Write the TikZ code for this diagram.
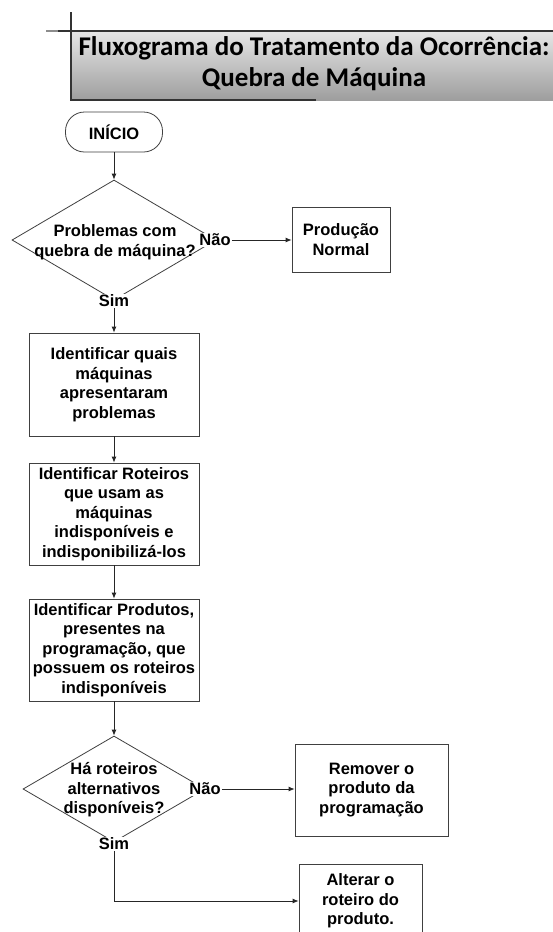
\documentclass[tikz,border=0pt]{standalone}
\usepackage{fontspec}
\setmainfont{Liberation Sans}
\newfontfamily\titlefont{Carlito}
\usetikzlibrary{shapes.geometric,arrows.meta}
\newcommand\flowfont{\bfseries\fontsize{16.5}{19.5}\selectfont}
\newcommand\headfont{\titlefont\bfseries\fontsize{27}{31}\selectfont}
\tikzset{
  edge/.style={draw=black!85, line width=0.8pt},
  arr/.style={edge, -{Latex[length=6pt,width=5pt]}},
  box/.style={draw=black!75, line width=0.8pt, fill=white, align=center, font=\flowfont, inner sep=2pt},
  dia/.style={draw=black!75, line width=0.8pt, shape=diamond, inner sep=0pt},
  lbl/.style={fill=white, inner sep=1pt, font=\flowfont},
  txt/.style={align=center, font=\flowfont, inner sep=0pt},
  headtext/.style={align=center, font=\headfont, inner sep=0pt},
}
\begin{document}
\begin{tikzpicture}[x=1pt,y=-1pt]
\useasboundingbox (0,0) rectangle (553,932);
\clip (0,0) rectangle (553,932);
\fill[white] (0,0) rectangle (553,932);

% header band
\shade[top color=black!10, bottom color=black!38] (71,32) rectangle (560,100);
\draw[black!80, line width=1.5pt] (71,12) -- (71,101);
\draw[black!45, line width=1.6pt] (46,31) -- (58,31);
\draw[black!80, line width=1.8pt] (58,31) -- (560,31);
\draw[black!80, line width=1.5pt] (71,100) -- (316,100);
\node[headtext] (title) at (314,64) {Fluxograma do Tratamento da Ocorrência:\\Quebra de Máquina};

% flow nodes
\node[box, rounded corners=19pt, minimum width=97pt, minimum height=40pt] (start) at (114,132) {INÍCIO};

\node[dia, minimum width=204pt, minimum height=120pt] (d1) at (114,240) {};
\node[txt] (d1t) at (115,242) {Problemas com\\quebra de máquina?};
\node[lbl] (no1) at (215,240) {Não};
\node[lbl] (yes1) at (114,301) {Sim};
\node[box, minimum width=98pt, minimum height=65pt] (prod) at (341,239.5) {Produção\\Normal};

\node[box, minimum width=170pt, minimum height=103pt] (b1) at (114,384.5) {Identificar quais\\máquinas\\apresentaram\\problemas};
\node[box, minimum width=170pt, minimum height=102pt] (b2) at (114,514) {Identificar Roteiros\\que usam as\\máquinas\\indisponíveis e\\indisponibilizá-los};
\node[box, minimum width=170pt, minimum height=102pt] (b3) at (114,650) {Identificar Produtos,\\presentes na\\programação, que\\possuem os roteiros\\indisponíveis};

\node[dia, minimum width=182pt, minimum height=106pt] (d2) at (114,789) {};
\node[txt] (d2t) at (114,790) {Há roteiros\\alternativos\\disponíveis?};
\node[lbl] (no2) at (205,789) {Não};
\node[lbl] (yes2) at (114,844) {Sim};
\node[box, minimum width=153pt, minimum height=92pt] (rem) at (371.5,790) {Remover o\\produto da\\programação};
\node[box, minimum width=123pt, minimum height=74pt] (alt) at (360.5,901) {Alterar o\\roteiro do\\produto.};

% connectors
\draw[arr] (start) -- (d1.north);
\draw[arr] (no1.east) -- (no1.east -| prod.west);
\draw[arr] (yes1) -- (b1);
\draw[arr] (b1) -- (b2);
\draw[arr] (b2) -- (b3);
\draw[arr] (b3) -- (d2.north);
\draw[arr] (no2.east) -- (no2.east -| rem.west);
\draw[arr] (yes2.south) |- (alt.west);
\end{tikzpicture}
\end{document}
